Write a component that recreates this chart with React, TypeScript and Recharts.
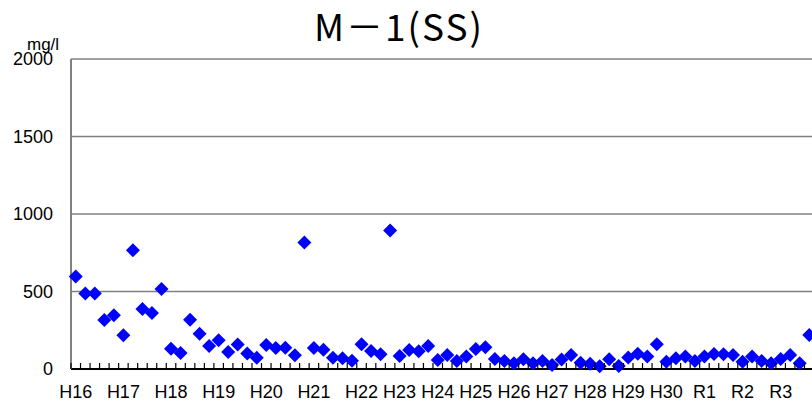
import React from "react";
import { ScatterChart, Scatter, XAxis, YAxis, CartesianGrid, ReferenceLine } from "recharts";

// SS (mg/l) per sampling, H16 .. R3
const ssValues = [
  597, 487, 487, 316, 346, 217, 766, 387, 362, 516,
  131, 104, 318, 228, 148, 186, 110, 158, 100, 73,
  155, 135, 137, 89, 816, 136, 125, 73, 69, 54,
  160, 116, 95, 894, 84, 123, 114, 148, 58, 90,
  52, 80, 129, 140, 65, 52, 37, 63, 37, 52,
  26, 62, 90, 41, 34, 17, 63, 19, 75, 99,
  80, 159, 47, 69, 80, 52, 80, 97, 95, 90,
  47, 80, 52, 37, 65, 90, 37, 219,
];

const yearLabels = ["H16", "H17", "H18", "H19", "H20", "H21", "H22", "H23", "H24", "H25", "H26", "H27", "H28", "H29", "H30", "R1", "R2", "R3"];
// index of the first sample of each year
const yearStart = [0, 5, 10, 15, 20, 25, 30, 34, 38, 42, 46, 50, 54, 58, 62, 66, 70, 74];

const yTicks = [0, 500, 1000, 1500, 2000];

const rows = ssValues.map((v, i) => ({ x: i + 0.5, y: v }));
const sampleCount = ssValues.length;
const boundaryTicks = Array.from({ length: sampleCount + 1 }, (_, i) => i);

const CHART_W = 830;
const Y_AXIS_W = 71;
const MARGIN_R = 16;
const halfBand = (CHART_W - Y_AXIS_W - MARGIN_R) / sampleCount / 2;

const font = "'Liberation Sans', Arial, sans-serif";

const Diamond = (props: any) => {
  const { cx, cy } = props;
  const r = 7;
  return (
    <polygon
      points={`${cx},${cy - r} ${cx + r},${cy} ${cx},${cy + r} ${cx - r},${cy}`}
      fill="#0000FF"
    />
  );
};

// tick mark between samples (pointing into the plot), year label on the first sample of a year
const SampleTick = (props: any) => {
  const { x, y, payload } = props;
  const k = yearStart.indexOf(payload.value);
  return (
    <g>
      <line x1={x} y1={y - 6} x2={x} y2={y} stroke="#000" strokeWidth={1.2} />
      {k >= 0 && (
        <text x={x + halfBand} y={y + 29} textAnchor="middle" fontSize={18} fontFamily={font} fill="#000">
          {yearLabels[k]}
        </text>
      )}
    </g>
  );
};

export default function App() {
  return (
    <div style={{ position: "fixed", left: 0, top: 0, width: 812, height: 405, overflow: "hidden", background: "#fff" }}>
      <ScatterChart width={CHART_W} height={405} margin={{ top: 59, right: MARGIN_R, left: 0, bottom: 0 }}>
        <CartesianGrid horizontal vertical={false} stroke="#808080" strokeWidth={1.5} />
        <XAxis
          type="number"
          dataKey="x"
          domain={[0, sampleCount]}
          ticks={boundaryTicks}
          interval={0}
          height={36}
          tickSize={0}
          tickMargin={0}
          tickLine={false}
          axisLine={{ stroke: "#000", strokeWidth: 2 }}
          tick={<SampleTick />}
        />
        <YAxis
          type="number"
          dataKey="y"
          domain={[0, 2000]}
          ticks={yTicks}
          interval={0}
          width={Y_AXIS_W}
          tickSize={0}
          tickMargin={18}
          tickLine={false}
          axisLine={{ stroke: "#808080", strokeWidth: 2 }}
          tick={{ fill: "#000", fontSize: 18, fontFamily: font }}
        />
        <ReferenceLine y={0} stroke="#000" strokeWidth={2} />
        <Scatter data={rows} dataKey="y" shape={<Diamond />} isAnimationActive={false} />
      </ScatterChart>
      <svg width={812} height={405} style={{ position: "absolute", left: 0, top: 0, pointerEvents: "none" }}>
        <text x={399} y={41} textAnchor="middle" fontSize={37} letterSpacing={2} fontFamily="'Noto Sans CJK JP', sans-serif" fill="#000">
          M－1(SS)
        </text>
        <text x={27} y={50} fontSize={17} fontFamily={font} fill="#000">
          mg/l
        </text>
      </svg>
    </div>
  );
}
